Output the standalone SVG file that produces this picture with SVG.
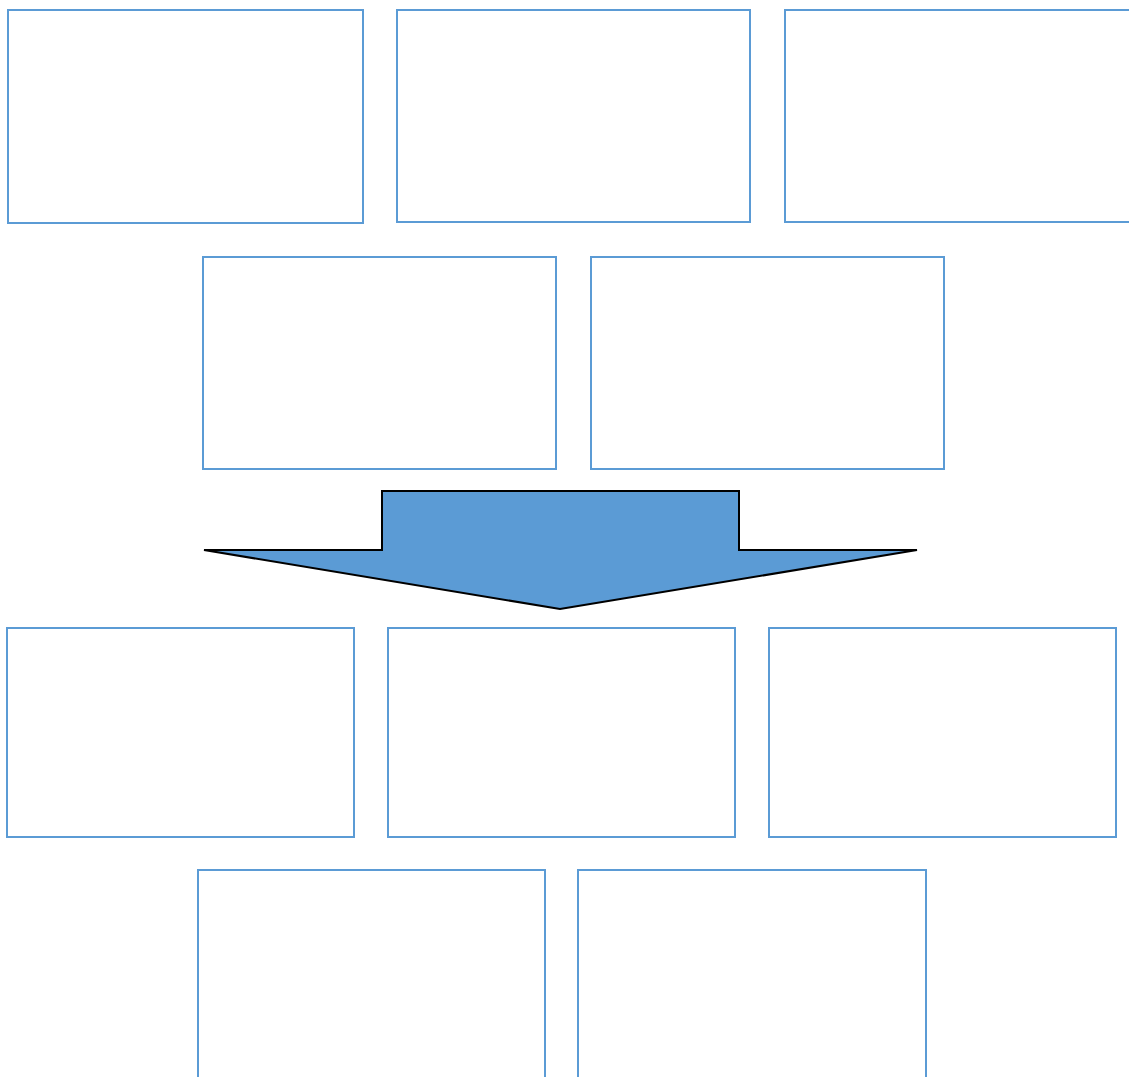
<svg xmlns="http://www.w3.org/2000/svg" width="1129" height="1077" viewBox="0 0 1129 1077">
<style>
.box{fill:#fff;stroke:#5B9BD5;stroke-width:2}
.arrow{fill:#5B9BD5;stroke:#000;stroke-width:2;stroke-linejoin:miter}
</style>
<rect width="1129" height="1077" fill="#fff"/>
<g id="n1"><rect class="box" x="8" y="10" width="355" height="213"/></g>
<g id="n2"><rect class="box" x="397" y="10" width="353" height="212"/></g>
<g id="n3"><rect class="box" x="785" y="10" width="360" height="212"/></g>
<g id="n4"><rect class="box" x="203" y="257" width="353" height="212"/></g>
<g id="n5"><rect class="box" x="591" y="257" width="353" height="212"/></g>
<g id="n6"><rect class="box" x="7" y="628" width="347" height="209"/></g>
<g id="n7"><rect class="box" x="388" y="628" width="347" height="209"/></g>
<g id="n8"><rect class="box" x="769" y="628" width="347" height="209"/></g>
<g id="n9"><rect class="box" x="198" y="870" width="347" height="220"/></g>
<g id="n10"><rect class="box" x="578" y="870" width="348" height="220"/></g>
<g id="connectors">
<path class="arrow" d="M382 491 L739 491 L739 550 L917 550 L560 609 L204 550 L382 550 Z"/>
</g>
</svg>
